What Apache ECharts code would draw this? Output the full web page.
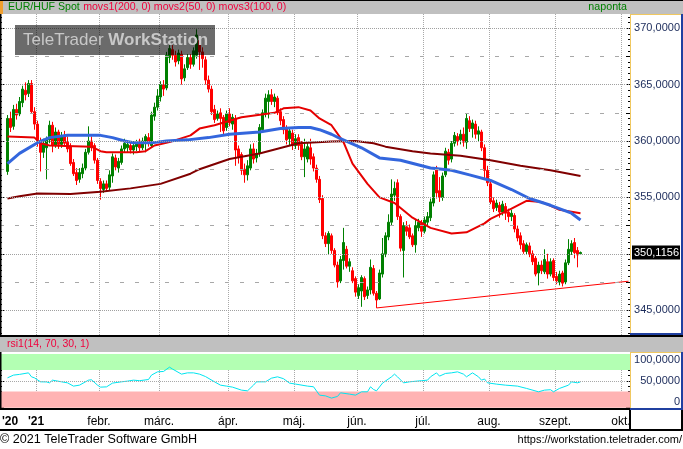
<!DOCTYPE html>
<html><head><meta charset="utf-8">
<script src="https://cdn.jsdelivr.net/npm/echarts@6/dist/echarts.min.js"></script>
<style>html,body{margin:0;padding:0;background:#fff;}#c{width:683px;height:449px;}</style>
</head><body><div id="c"></div>
<script>
// ---------- DATA ----------
const firstDay = '2020-12-16';           // first weekday slot on the axis
const slotCount = 210;                   // weekday slots shown (to early Oct 2021)
const firstCandleDate = '2020-12-18';
const monthLabels = ["'21","febr.","márc.","ápr.","máj.","jún.","júl.","aug.","szept.","okt."];
const yearLabel20 = "'20";
// [open, close, low, high]
const ohlc = [
[357.3,362.0,357.0,362.3],[362.0,361.2,360.8,362.6],[361.3,362.8,361.0,363.2],[362.8,362.3,361.9,363.3],
[362.4,363.5,362.2,363.9],[363.4,364.6,363.0,364.9],[364.5,364.1,363.6,365.2],[364.2,365.1,363.9,365.4],
[365.1,362.6,362.4,365.4],[362.6,361.5,361.0,363.0],[361.5,360.1,359.5,361.8],[360.0,359.0,357.3,360.3],
[359.0,359.8,358.5,360.2],[359.4,360.1,356.6,360.4],[360.1,361.4,359.8,361.8],[361.4,359.6,359.0,361.7],
[359.6,360.8,359.4,361.2],[360.8,359.7,359.3,361.0],[359.7,360.4,359.4,360.8],[360.4,359.8,359.5,360.9],
[359.9,359.3,359.0,360.4],[359.5,358.0,357.8,359.8],[358.1,357.1,356.9,358.4],[357.2,356.5,356.1,357.6],
[356.6,357.2,356.3,357.6],[357.1,357.6,356.7,358.0],[357.6,359.0,357.4,359.3],[359.0,360.0,358.8,361.3],
[360.0,359.4,359.1,360.4],[359.6,358.3,358.0,359.8],[358.3,356.5,356.2,358.5],[356.4,355.8,354.8,356.7],
[355.7,356.2,355.4,356.5],[356.2,355.8,355.5,356.5],[355.9,357.0,355.6,357.4],[356.9,358.6,356.3,358.9],
[358.5,357.7,357.4,358.8],[357.6,358.2,357.2,358.5],[358.1,359.3,357.9,359.6],[359.3,359.8,359.0,360.2],
[359.4,359.7,359.0,360.0],[359.6,359.2,358.9,359.9],[359.2,359.6,358.8,360.0],[359.5,359.8,359.1,360.1],
[360.0,359.4,359.1,360.2],[359.4,360.0,359.2,360.3],[359.8,360.4,359.0,360.6],[360.3,359.8,359.5,360.7],
[359.6,362.3,359.4,362.6],[362.2,363.0,361.8,363.4],[363.0,364.0,362.7,364.6],[363.9,365.0,363.5,365.3],
[365.0,364.6,364.0,365.4],[364.7,367.6,364.5,367.9],[367.4,368.2,366.9,368.5],[368.1,367.6,367.2,368.5],
[367.6,367.0,366.6,368.0],[367.1,367.8,366.8,368.1],[367.7,365.5,365.0,368.0],[365.6,366.4,365.3,366.8],
[366.5,367.4,366.3,367.7],[367.4,366.8,366.4,367.7],[366.8,368.0,366.6,368.3],[367.6,369.4,367.3,369.9],
[368.9,367.9,366.3,369.2],[367.9,367.3,366.5,368.3],[367.2,365.4,365.0,367.5],[365.4,364.6,364.3,365.8],
[364.6,362.6,362.3,364.9],[362.8,361.9,361.6,363.2],[362.0,362.4,361.8,362.7],[362.5,362.0,360.8,362.9],
[362.1,360.9,360.5,362.3],[361.2,362.4,360.9,362.7],[362.4,361.6,361.3,362.9],[361.5,362.1,361.0,362.4],
[362.0,359.2,357.8,362.3],[359.3,358.6,358.0,359.6],[358.8,357.4,357.0,359.0],[357.5,357.0,356.3,358.0],
[357.0,357.8,356.5,358.3],[357.6,359.3,357.4,359.7],[359.3,358.4,358.0,359.8],[358.5,358.9,358.1,359.3],
[358.9,361.2,358.6,361.5],[361.0,362.5,360.8,362.8],[362.5,363.8,362.1,364.2],[363.5,364.1,362.0,364.5],
[364.1,363.5,363.2,364.6],[363.5,363.9,363.0,364.2],[363.8,362.5,362.3,364.0],[362.6,361.8,361.4,362.9],
[361.9,361.0,360.6,362.2],[361.1,360.1,359.7,361.4],[360.2,360.9,359.6,361.2],[360.7,359.6,359.2,361.0],
[359.6,360.2,359.3,360.6],[360.3,359.6,359.2,360.6],[359.7,358.6,358.3,360.0],[358.6,359.3,356.8,360.2],
[358.4,359.5,358.1,359.9],[359.4,358.4,357.9,360.2],[358.6,357.6,357.3,358.9],[357.6,356.6,356.3,357.9],
[356.6,354.8,354.5,356.9],[354.9,351.6,351.3,355.2],[351.6,350.9,350.6,351.9],[350.9,351.8,349.9,352.0],
[351.6,350.3,350.0,351.8],[350.3,349.0,348.8,350.5],[349.0,347.5,347.0,349.3],[347.6,349.5,347.4,349.8],
[349.4,351.0,348.6,352.3],[350.4,348.9,348.7,350.7],[348.9,349.3,348.4,349.6],[348.5,347.6,347.4,348.8],
[347.8,346.6,346.2,348.0],[346.3,347.0,346.0,347.3],[346.7,347.9,345.3,348.1],[347.8,346.2,345.9,348.0],
[346.3,346.8,346.0,347.1],[346.8,348.8,346.4,349.5],[348.7,346.5,346.3,349.0],[346.5,345.9,345.2,346.7],
[346.0,348.3,345.9,348.6],[348.2,350.0,347.9,351.4],[350.0,351.6,349.7,351.9],[351.5,352.8,351.2,353.5],
[352.8,355.3,352.5,356.6],[355.2,355.8,354.7,356.4],[356.3,353.3,353.0,356.6],[353.3,350.5,350.2,353.5],
[350.3,352.5,347.9,352.8],[352.4,352.0,351.6,352.9],[352.3,351.5,351.3,352.6],[351.6,350.8,350.6,351.8],
[350.8,352.5,350.1,353.0],[352.3,352.8,352.0,353.1],[352.7,352.0,351.5,353.0],[352.0,353.0,351.8,353.3],
[352.8,353.3,352.5,353.7],[353.2,354.6,352.9,354.9],[354.5,357.0,354.2,357.3],[357.6,355.4,354.9,357.8],
[355.6,355.0,354.6,356.8],[355.0,356.9,354.7,357.2],[357.0,359.1,356.8,359.4],[359.0,358.3,357.9,359.3],
[358.4,359.8,358.1,360.0],[359.8,360.5,359.5,360.8],[360.4,360.0,359.6,360.7],[360.1,360.6,359.7,361.0],
[360.6,359.9,359.5,361.2],[359.9,362.0,359.3,362.4],[361.8,361.1,360.8,362.2],[361.1,361.6,360.3,361.9],
[361.5,360.6,360.2,361.8],[360.6,360.9,360.0,361.3],[360.8,359.4,359.1,361.0],[359.4,357.4,356.7,359.7],
[357.4,356.3,356.0,357.8],[356.2,354.6,354.4,356.4],[354.7,354.0,353.7,355.0],[354.1,354.5,353.8,354.8],
[354.3,353.7,353.2,354.6],[353.7,354.4,353.4,354.7],[354.2,353.6,353.0,354.5],[353.7,353.3,352.8,354.0],
[353.3,353.6,352.9,353.9],[353.4,352.2,351.9,353.6],[352.2,351.4,351.1,352.5],[351.6,350.8,350.4,351.9],
[350.9,350.2,350.0,351.2],[350.2,350.8,349.9,351.0],[350.7,350.0,349.7,351.0],[350.0,349.3,349.0,350.3],
[349.6,348.2,348.0,349.8],[348.3,349.0,347.2,349.3],[349.0,348.5,348.2,349.4],[348.4,349.5,348.2,350.4],
[349.3,348.2,347.8,350.0],[348.2,349.3,348.0,349.6],[349.4,347.9,347.6,349.6],[348.0,347.6,347.3,348.4],
[347.5,348.2,347.2,348.5],[348.3,347.4,347.1,348.5],[347.5,349.2,347.3,349.5],[349.2,350.4,349.0,351.3],
[350.2,350.9,349.9,351.2],[351.0,350.1,349.6,351.4],[350.3,349.9,348.8,350.6],[350.0,350.1156,349.9,350.2]
];
// moving averages: [slot index, value]
const movs1 = [[2,354.9],[6,355.1],[12,355.35],[23,355.3],[33,355.5],[43,355.8],[53,356.2],[63,357.1],[66,357.5],[76,358.4],[86,358.9],[99,359.8],[110,359.95],[118,360.0],[124,359.8],[128,359.5],[137,359.1],[143,358.9],[153,358.7],[163,358.3],[173,357.8],[183,357.4],[193,356.9]];
const movs2 = [[2,360.4],[11,360.3],[13,359.8],[16,359.6],[30,359.5],[33,359.1],[35,359.0],[45,359.0],[48,359.1],[51,359.6],[56,359.9],[63,360.5],[66,361.1],[71,361.4],[76,361.8],[80,362.1],[91,362.5],[94,362.9],[99,363.0],[103,362.7],[106,362.0],[110,361.4],[114,359.9],[117,358.0],[122,356.2],[126,355.0],[131,354.5],[137,353.2],[143,352.3],[150,351.8],[155,351.9],[161,352.7],[163,353.1],[170,354.0],[175,354.7],[180,354.6],[186,353.9],[193,353.6]];
const movs3 = [[2,358.0],[6,358.9],[12,359.85],[16,360.3],[22,360.5],[33,360.5],[37,360.3],[41,360.0],[44,359.85],[50,359.85],[52,359.9],[55,360.0],[62,360.1],[69,360.3],[76,360.6],[86,360.8],[93,361.1],[99,361.2],[103,361.2],[106,361.0],[110,360.6],[113,360.2],[120,359.4],[126,358.5],[133,358.3],[143,357.6],[150,357.4],[156,357.0],[163,356.5],[170,355.7],[176,354.9],[183,354.3],[190,353.6],[193,353.0]];
const trend = [[125,345.2],[209,347.57]];
const rsi = [[2,55.6],[4,60.7],[6,62],[9,64.9],[10,57.5],[11,55.5],[13,48.2],[15,48],[16,46.3],[17,51.3],[20,48.2],[22,46.3],[24,40.2],[26,42],[29,51.3],[30,52],[32,42],[33,38.3],[35,38.8],[37,45.8],[40,48.2],[42,49.5],[44,51.3],[46,50.3],[49,52.5],[50,60.7],[52,66.8],[54,67.5],[56,75.5],[57,72],[60,62.5],[62,64.9],[64,64.9],[66,62.5],[68,58],[71,48.2],[73,42],[75,40.2],[77,38.3],[80,32.7],[82,31.4],[84,42],[85,48.2],[88,48.2],[90,55],[92,57.5],[94,54],[96,45.8],[98,44],[102,40.2],[104,39],[106,23.4],[108,22],[110,17.9],[112,21],[113,27.7],[116,25.3],[118,23.4],[120,29.6],[122,29.6],[123,38.9],[124,34],[125,31.4],[127,45.8],[130,57.5],[131,62.5],[132,57.5],[134,46.3],[136,48.2],[140,50.3],[142,51.3],[143,57.5],[145,64.9],[146,58.8],[148,63.8],[150,64.9],[152,66.8],[154,62.5],[155,57.5],[157,64.9],[159,57.5],[160,51.3],[161,53.5],[162,46.3],[165,43.9],[168,42],[172,40.2],[175,35.9],[179,29.6],[181,32.7],[183,33.5],[184,29.6],[186,35.9],[189,42],[190,48.2],[192,46.3],[193,48.2]];
const gridFive = [345,350,355,360,365,370];
const gridHalf = [347.5,352.5,357.5,362.5,367.5];

// ---------- BUILD ----------
const cats = [];
{ const d = new Date(firstDay + 'T00:00:00Z');
  while (cats.length < slotCount) { const w = d.getUTCDay(); if (w !== 0 && w !== 6) cats.push(d.toISOString().slice(0,10)); d.setUTCDate(d.getUTCDate()+1); } }
const monthStart = cats.map((c,i) => i > 0 && c.slice(5,7) !== cats[i-1].slice(5,7));
const c0 = cats.indexOf(firstCandleDate);
const candleData = ohlc.map((r,k) => [c0 + k, r[0], r[1], r[2], r[3]]);
const lastClose = ohlc[ohlc.length-1][1];
const fmt = v => v.toFixed(4).replace('.', ',');
const FONT = 'Liberation Sans, Arial, sans-serif';

const chart = echarts.init(document.getElementById('c'), null, {renderer:'canvas'});
const vSplit = {show:true, interval:(i)=>monthStart[i], lineStyle:{color:'#a8a8a8', type:[1,1], width:1}};
const option = {
  animation:false,
  backgroundColor:'#fff',
  grid:[{left:0, right:53, top:-2.1, height:340.5},{left:0, right:53, top:354, height:53.7}],
  xAxis:[
    {type:'category', gridIndex:0, data:cats, boundaryGap:true, axisLine:{show:false}, axisTick:{show:false}, axisLabel:{show:false}, splitLine:vSplit},
    {type:'category', gridIndex:1, data:cats, boundaryGap:true, axisLine:{show:false}, axisTick:{show:false}, splitLine:vSplit,
     axisLabel:{show:true, interval:(i)=>monthStart[i], margin:8, fontSize:12, fontFamily:FONT, color:'#000', padding:[0,3,0,0],
       formatter:(v)=>{ const m = +v.slice(5,7); return m===1 ? '{b|'+monthLabels[0]+'}' : monthLabels[m-1]; },
       rich:{b:{fontWeight:'bold', fontSize:12, fontFamily:FONT, color:'#000'}}}}
  ],
  yAxis:[
    {type:'value', gridIndex:0, position:'right', min:342.5, max:372.5, interval:2.5, axisLine:{show:false},
     axisTick:{show:true, inside:true, length:4, lineStyle:{color:'#000'}}, minorTick:{show:true, splitNumber:5, length:2, lineStyle:{color:'#000'}},
     splitLine:{show:false},
     axisLabel:{show:true, align:'right', margin:50, fontSize:11, fontFamily:FONT, color:'#1a2a5a', formatter:(v)=> (Math.abs(v/5 - Math.round(v/5))<1e-6 && v>343 && v<372) ? fmt(v) : ''}},
    {type:'value', gridIndex:0, position:'left', min:342.5, max:372.5, interval:2.5, axisLine:{show:false},
     axisTick:{show:true, inside:true, length:4, lineStyle:{color:'#000'}}, minorTick:{show:true, splitNumber:5, length:2, lineStyle:{color:'#000'}},
     splitLine:{show:false}, axisLabel:{show:false}},
    {type:'value', gridIndex:1, position:'right', min:0, max:100, interval:50, axisLine:{show:false},
     axisTick:{show:true, inside:true, length:4, lineStyle:{color:'#000'}}, minorTick:{show:true, splitNumber:5, length:2, lineStyle:{color:'#000'}},
     splitLine:{show:false},
     axisLabel:{show:true, align:'right', margin:50, fontSize:11, fontFamily:FONT, color:'#1a2a5a', verticalAlignMaxLabel:'top', verticalAlignMinLabel:'bottom',
       formatter:(v)=> v===0 ? '0' : fmt(v)}},
    {type:'value', gridIndex:1, position:'left', min:0, max:100, interval:50, axisLine:{show:false},
     axisTick:{show:true, inside:true, length:4, lineStyle:{color:'#000'}}, minorTick:{show:true, splitNumber:5, length:2, lineStyle:{color:'#000'}},
     splitLine:{show:false}, axisLabel:{show:false}}
  ],
  series:[
    {type:'line', name:'gridlines', xAxisIndex:0, yAxisIndex:0, data:[], z:1, silent:true,
     markLine:{silent:true, symbol:['none','none'], animation:false, label:{show:false},
       data:[...gridFive.map(v=>({yAxis:v, lineStyle:{type:[1,1], color:'#a0a0a0', width:1}})),
             ...gridHalf.map(v=>({yAxis:v, lineStyle:{type:[4,11], color:'#a8a8a8', width:1}}))]}},
    {type:'candlestick', xAxisIndex:0, yAxisIndex:0, data:candleData, encode:{x:0, y:[1,2,3,4]}, barWidth:2.2, z:2,
     itemStyle:{color:'#008000', color0:'#ff0000', borderColor:'#008000', borderColor0:'#ff0000', borderWidth:1}},
    {type:'line', name:'movs1', xAxisIndex:0, yAxisIndex:0, data:movs1, symbol:'none', z:3, lineStyle:{color:'#800000', width:2}},
    {type:'line', name:'movs2', xAxisIndex:0, yAxisIndex:0, data:movs2, symbol:'none', z:3, lineStyle:{color:'#e60000', width:2}},
    {type:'line', name:'movs3', xAxisIndex:0, yAxisIndex:0, data:movs3, symbol:'none', z:3, lineStyle:{color:'#3366dd', width:3}},
    {type:'line', name:'trend', xAxisIndex:0, yAxisIndex:0, data:trend, symbol:'none', z:3, lineStyle:{color:'#ff0000', width:1}},
    {type:'line', name:'rsi', xAxisIndex:1, yAxisIndex:2, data:rsi, symbol:'none', z:3, lineStyle:{color:'#00e5f0', width:1},
     markArea:{silent:true, data:[[{yAxis:70, itemStyle:{color:'#b3ffb3'}},{yAxis:100}],[{yAxis:0, itemStyle:{color:'#ffb3b3'}},{yAxis:30}]]},
     markLine:{silent:true, symbol:['none','none'], label:{show:false}, data:[{yAxis:50, lineStyle:{type:[1,1], color:'#a8a8a8', width:1}}]}}
  ]
};
chart.setOption(option);

const yPrice = chart.convertToPixel({yAxisIndex:0}, lastClose);
const G = [];
const rect = (x,y,w,h,fill,z) => G.push({type:'rect', shape:{x,y,width:w,height:h}, style:{fill}, z:z||50, silent:true});
const text = (x,y,t,opt) => G.push({type:'text', x, y, z:60, silent:true, style:Object.assign({text:t, font:'12px '+FONT, fill:'#000', verticalAlign:'middle'}, opt||{})});
// header
rect(0,0,683,14,'#c0c0c0'); rect(0,0,683,1,'#000'); rect(0,1,3,13,'#f0a030');
G.push({type:'text', x:8, y:7.5, z:60, silent:true, style:{text:'{g|EUR/HUF Spot} {r|movs1(200, 0) movs2(50, 0) movs3(100, 0)}', verticalAlign:'middle',
  rich:{g:{fill:'#008000', font:'10.6px '+FONT}, r:{fill:'#f0003c', font:'10.6px '+FONT}}}});
text(627,7.5,'naponta',{fill:'#008000', align:'right', font:'10.7px '+FONT});
// left border
rect(0,14,1.5,322,'#000'); rect(0,352,1.5,58,'#000');
// right main panel frame
rect(630,14,53,1,'#f0c860'); rect(630,14,1,321,'#f0c860'); rect(681,14,2,321,'#2040a0'); rect(630,333,53,2,'#2040a0');
// separator + rsi header
rect(0,335,683,2,'#000'); rect(0,337,683,15,'#c0c0c0');
text(7,344.5,'rsi1(14, 70, 30, 1)',{fill:'#f0003c', font:'10.5px '+FONT});
// rsi right panel
rect(630,352,53,1,'#f0c860'); rect(630,352,1,58,'#f0c860'); rect(681,352,2,58,'#2040a0'); rect(630,408,53,2,'#2040a0');
// x-axis band
rect(0,408,630,2,'#000'); rect(0,429,683,2,'#000'); rect(629,410,2,20,'#000'); rect(681,410,2,20,'#000');
text(2,422,yearLabel20,{font:'bold 12px '+FONT});
// footer
text(0,439.5,'© 2021 TeleTrader Software GmbH',{font:'12.6px '+FONT});
text(682,439.5,'https://workstation.teletrader.com/',{align:'right', font:'11px '+FONT});
// watermark
rect(15,25,200,30,'rgba(0,0,0,0.58)',55);
G.push({type:'text', x:23, y:40, z:60, silent:true, style:{text:'{n|TeleTrader }{b|WorkStation}', verticalAlign:'middle',
  rich:{n:{fill:'#c8c8c8', font:'17px '+FONT}, b:{fill:'#c8c8c8', font:'bold 17px '+FONT}}}});
// last price box
rect(632,yPrice-7,48,14,'#000',58);
text(679,yPrice,fmt(lastClose),{fill:'#fff', align:'right', font:'11px '+FONT});
chart.setOption({graphic:{elements:G}});
</script>
</body></html>
